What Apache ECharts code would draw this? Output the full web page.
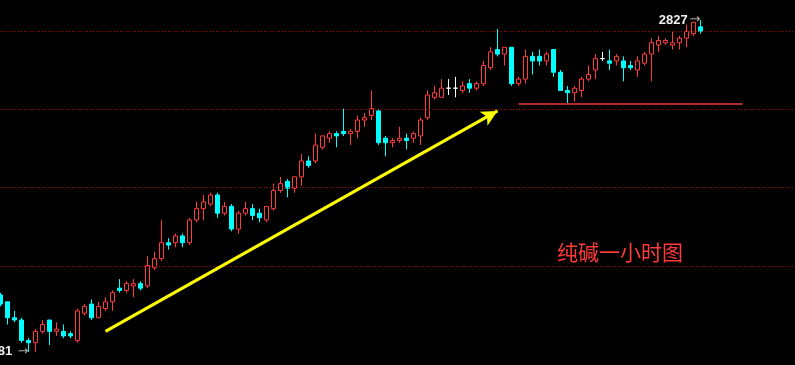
<!DOCTYPE html>
<html>
<head>
<meta charset="utf-8">
<script src="https://cdn.jsdelivr.net/npm/echarts@6/dist/echarts.min.js"></script>
<style>
html,body{margin:0;padding:0;background:#000;}
#c{width:795px;height:365px;}
</style>
</head>
<body>
<div id="c"></div>
<script>
// ---- data (hourly candles) ----
const opens  = [2706,2703,2696,2695,2686,2685,2690,2695,2690,2690,2689,2686,2698,2702,2696,2700,2703,2709,2708,2710,2711,2710,2718,2722,2729,2729,2732,2729,2739,2744,2746,2750,2742,2745,2735,2742,2744,2742,2739,2744,2752,2756,2753,2758,2765,2765,2771,2775,2777,2778,2777,2778,2783,2785,2787,2775,2773,2774,2775,2775,2776,2784,2793,2793,2797,2797,2796,2799,2797,2799,2806,2814,2812,2815,2799,2801,2811,2811,2809,2814,2804,2796,2795,2796,2801,2805,2810,2809,2809,2809,2807,2805,2808,2812,2816,2817,2816,2817,2819,2821,2824];
const closes = [2702,2696,2695,2686,2685,2690,2693,2690,2691,2688,2688,2699,2701,2696,2701,2703,2707,2708,2711,2711,2709,2719,2722,2729,2728,2732,2729,2739,2744,2747,2750,2742,2745,2735,2742,2744,2741,2740,2745,2752,2755,2753,2758,2765,2763,2772,2776,2777,2776,2777,2778,2783,2784,2788,2773,2773,2774,2775,2774,2777,2783,2794,2795,2797,2797,2797,2798,2797,2799,2807,2813,2812,2815,2799,2801,2811,2809,2809,2812,2804,2796,2795,2797,2801,2803,2810,2810,2808,2811,2806,2806,2809,2812,2817,2818,2818,2817,2819,2822,2826,2822];
const lows   = [2701,2693,2694,2685,2681,2681,2689,2684,2688,2687,2687,2685,2697,2695,2696,2699,2699,2707,2707,2705,2708,2709,2717,2721,2726,2727,2727,2728,2738,2739,2745,2740,2741,2734,2733,2741,2739,2738,2738,2743,2751,2749,2751,2754,2762,2764,2770,2773,2771,2776,2772,2775,2780,2783,2772,2767,2771,2773,2770,2773,2772,2783,2792,2793,2794,2793,2795,2795,2796,2798,2805,2811,2807,2798,2798,2799,2803,2807,2807,2802,2796,2790,2791,2793,2800,2801,2809,2805,2807,2800,2805,2802,2807,2800,2813,2816,2814,2814,2815,2820,2821];
const highs  = [2707,2703,2699,2696,2687,2691,2695,2695,2694,2693,2690,2700,2702,2704,2703,2705,2708,2713,2712,2713,2712,2723,2725,2739,2731,2733,2733,2740,2747,2750,2751,2751,2747,2746,2743,2747,2746,2744,2745,2755,2758,2757,2758,2768,2767,2777,2776,2778,2778,2788,2779,2785,2786,2796,2788,2776,2775,2780,2777,2778,2784,2796,2798,2801,2801,2802,2800,2801,2800,2809,2815,2823,2815,2815,2802,2814,2813,2814,2813,2814,2805,2798,2798,2802,2807,2812,2813,2814,2812,2811,2809,2811,2813,2819,2820,2819,2822,2820,2825,2826,2827];
const extraSlots = 15;                       // empty hours to the right of the last candle
const categories = Array.from({length: opens.length + extraSlots}, (_, i) => String(i + 1));
const gridLevels = [2822.2, 2787.8, 2753.5, 2718.8];
const supportLevel = 2790;
const supportFrom = 74, supportTo = 106;
const trendStart = [15, 2690], trendEnd = [71, 2787];
const yMin = 2675.2, yMax = 2835.8;
const titleText = '纯碱一小时图';

const candles = opens.map((o, i) => [o, closes[i], lows[i], highs[i]]);
let hiIdx = 0, loIdx = 0;
highs.forEach((h, i) => { if (h > highs[hiIdx]) hiIdx = i; });
lows.forEach((l, i) => { if (l < lows[loIdx]) loIdx = i; });

const chart = echarts.init(document.getElementById('c'), null, {renderer: 'canvas'});
const gridLineStyle = {color: '#b00000', width: 1, type: [1, 2]};
const labelRich = {
  v: {color: '#f0f0f0', fontSize: 13, fontWeight: 'bold', fontFamily: 'Liberation Sans'},
  a: {color: '#a8a8a8', fontSize: 13, fontFamily: 'DejaVu Sans', padding: [0, 0, 0, 2]}
};
chart.setOption({
  backgroundColor: '#000000',
  animation: false,
  title: {
    text: titleText, left: 552, top: 237,
    textStyle: {color: '#ff3a3a', fontSize: 21, fontWeight: 'normal', fontFamily: 'Noto Sans CJK SC'}
  },
  grid: {left: -3, width: categories.length * 7, top: 0, bottom: 0, outerBoundsMode: 'none', containLabel: false},
  xAxis: {type: 'category', data: categories, show: false, boundaryGap: true},
  yAxis: {type: 'value', min: yMin, max: yMax, show: false, splitLine: {show: false}},
  series: [{
    type: 'candlestick',
    data: candles,
    barWidth: 5,
    clip: false,
    itemStyle: {
      color: '#000000', borderColor: '#ff3c3c',
      color0: '#00ffff', borderColor0: '#00ffff',
      borderColorDoji: '#ffffff', borderWidth: 1
    },
    markLine: {
      silent: true, animation: false,
      symbol: ['none', 'none'],
      label: {show: false},
      emphasis: {disabled: true},
      data: gridLevels.map(v => ({yAxis: v, lineStyle: gridLineStyle})).concat([
        [{coord: [supportFrom, supportLevel], lineStyle: {color: '#b42a2a', width: 2, type: 'solid'}},
         {coord: [supportTo, supportLevel]}],
        [{coord: trendStart, symbol: 'none', lineStyle: {color: '#ffff00', width: 3, type: 'solid'}},
         {coord: trendEnd, symbol: 'arrow', symbolSize: [12, 16]}]
      ])
    },
    markPoint: {
      silent: true, animation: false,
      symbol: 'circle', symbolSize: 0,
      data: [
        {coord: [hiIdx, highs[hiIdx]], value: highs[hiIdx],
         label: {show: true, position: 'left', distance: 0, formatter: p => '{v|' + p.value + '}{a|→}', rich: labelRich}},
        {coord: [loIdx, lows[loIdx]], value: lows[loIdx],
         label: {show: true, position: 'left', distance: 0, formatter: p => '{v|' + p.value + '} {a|→}', rich: labelRich}}
      ]
    }
  }]
});
</script>
</body>
</html>
